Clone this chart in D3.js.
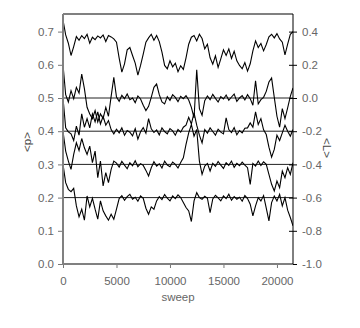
<!DOCTYPE html>
<html lang="en">
<head>
    <meta charset="UTF-8">
    <script src="https://d3js.org/d3.v7.min.js"></script>
    <title>p and L vs sweep</title>
    <style>
        html,
        body {
            margin: 0px;
            padding: 0px;
            background-color: #ffffff;
            font-family: "Liberation Sans", Arial, sans-serif;
        }
        .tick-label {
            font-size: 11.5px;
            fill: #666;
        }
    </style>
</head>
<body>
    <div id="chart"></div>

    <script>
        // sampled every 250 sweeps, 0 .. 21500
        const sweepStep = 250;
        const sweepMax = 21500;

        const xTicks = [0, 5000, 10000, 15000, 20000];
        const pTicks = [0.0, 0.1, 0.2, 0.3, 0.4, 0.5, 0.6, 0.7];
        const lTicks = [-1.0, -0.8, -0.6, -0.4, -0.2, 0.0, 0.2, 0.4];
        const refLines = [0.2, 0.3, 0.4, 0.5];

        const seriesA = [0.735, 0.69, 0.665, 0.628, 0.655, 0.685, 0.674, 0.688, 0.679, 0.692,
            0.665, 0.683, 0.676, 0.687, 0.681, 0.69, 0.67, 0.688, 0.684, 0.678,
            0.668, 0.62, 0.578, 0.603, 0.645, 0.652, 0.628, 0.605, 0.569, 0.598,
            0.632, 0.668, 0.681, 0.692, 0.674, 0.688, 0.67, 0.638, 0.598, 0.588,
            0.612, 0.594, 0.605, 0.579, 0.597, 0.586, 0.621, 0.662, 0.683, 0.688,
            0.672, 0.692, 0.679, 0.648, 0.662, 0.621, 0.602, 0.627, 0.592, 0.618,
            0.645, 0.628, 0.648, 0.619, 0.641, 0.612, 0.598, 0.588, 0.607, 0.581,
            0.603, 0.642, 0.672, 0.652, 0.664, 0.642, 0.661, 0.684, 0.692, 0.681,
            0.694, 0.678, 0.668, 0.63, 0.662, 0.692, 0.7];

        const seriesB = [0.6, 0.51, 0.488, 0.522, 0.498, 0.532, 0.515, 0.572, 0.528, 0.472,
            0.452, 0.438, 0.462, 0.428, 0.452, 0.438, 0.472, 0.445, 0.505, 0.562,
            0.503, 0.49, 0.508, 0.498, 0.512, 0.495, 0.5, 0.486, 0.506, 0.497,
            0.478, 0.462, 0.475, 0.502, 0.532, 0.542, 0.51, 0.488, 0.482, 0.504,
            0.493, 0.51, 0.502, 0.489, 0.505, 0.498, 0.507, 0.494, 0.472, 0.44,
            0.585, 0.468, 0.448, 0.492, 0.506, 0.495, 0.511, 0.499, 0.488, 0.504,
            0.497, 0.509, 0.493, 0.503, 0.512, 0.49, 0.5, 0.507, 0.494, 0.51,
            0.498, 0.478, 0.552, 0.482, 0.495, 0.502, 0.52, 0.548, 0.56, 0.502,
            0.445, 0.412, 0.468, 0.438, 0.47, 0.505, 0.53];

        const seriesC = [0.5, 0.41, 0.398, 0.392, 0.372, 0.415, 0.388, 0.452, 0.412, 0.438,
            0.41, 0.452, 0.428, 0.458, 0.422, 0.445, 0.418, 0.432, 0.405, 0.392,
            0.406, 0.395, 0.41, 0.388, 0.402, 0.397, 0.386, 0.408, 0.376, 0.398,
            0.411, 0.394, 0.438, 0.407, 0.396, 0.404, 0.389, 0.41, 0.399, 0.392,
            0.408, 0.401, 0.388, 0.405, 0.397, 0.412, 0.418, 0.442, 0.422, 0.455,
            0.418, 0.388, 0.365, 0.405, 0.394, 0.41, 0.399, 0.388, 0.406, 0.397,
            0.392, 0.44, 0.405, 0.396, 0.411, 0.389, 0.402, 0.395, 0.409, 0.41,
            0.425, 0.412, 0.458, 0.42, 0.438, 0.404, 0.39, 0.352, 0.322, 0.345,
            0.388, 0.372, 0.395, 0.418, 0.4, 0.385, 0.405];

        const seriesD = [0.4, 0.34, 0.31, 0.285, 0.33, 0.365, 0.342, 0.378, 0.35, 0.33,
            0.355, 0.305, 0.34, 0.26, 0.31, 0.235, 0.275, 0.245, 0.285, 0.31,
            0.304, 0.292, 0.309, 0.298, 0.287, 0.305, 0.296, 0.311, 0.293, 0.302,
            0.297, 0.282, 0.265, 0.29, 0.308, 0.295, 0.302, 0.289, 0.31, 0.298,
            0.293, 0.307, 0.3, 0.289, 0.306, 0.32, 0.36, 0.395, 0.42, 0.385,
            0.405, 0.31, 0.27, 0.295, 0.303, 0.28, 0.303, 0.294, 0.309, 0.298,
            0.288, 0.305, 0.297, 0.31, 0.291, 0.303, 0.296, 0.307, 0.298, 0.29,
            0.24, 0.303, 0.295, 0.31, 0.297, 0.308, 0.3, 0.27, 0.24, 0.22,
            0.25, 0.23, 0.28, 0.26, 0.29, 0.27, 0.305];

        const seriesE = [0.3, 0.245, 0.225, 0.218, 0.228, 0.175, 0.142, 0.165, 0.132, 0.205,
            0.172, 0.198, 0.165, 0.135, 0.19, 0.16, 0.145, 0.132, 0.15, 0.135,
            0.165, 0.197, 0.206, 0.192, 0.203, 0.21, 0.195, 0.201, 0.189, 0.205,
            0.198, 0.168, 0.15, 0.172, 0.165, 0.19, 0.203, 0.194, 0.209, 0.198,
            0.19, 0.205, 0.197, 0.208, 0.2, 0.185, 0.17, 0.16, 0.128, 0.19,
            0.215, 0.2, 0.195, 0.204, 0.198, 0.155, 0.196, 0.207, 0.199, 0.19,
            0.205, 0.197, 0.21, 0.192, 0.203, 0.195, 0.201, 0.189, 0.206, 0.197,
            0.18, 0.145, 0.175, 0.2, 0.19, 0.206, 0.168, 0.13, 0.185, 0.205,
            0.19, 0.21, 0.175, 0.2, 0.162, 0.14, 0.115];

        const allSeries = [seriesA, seriesB, seriesC, seriesD, seriesE];

        let width = 360;
        let height = 328;
        let margin = { top: 15, right: 67, bottom: 64, left: 63 };

        let svg = d3.select('#chart').append('svg')
            .attr('width', width)
            .attr('height', height);

        let x = d3.scaleLinear().domain([0, sweepMax]).range([margin.left, width - margin.right]);
        let y = d3.scaleLinear().domain([0, 0.75]).range([height - margin.bottom, margin.top]);
        let yR = d3.scaleLinear().domain([-1.0, 0.5]).range([height - margin.bottom, margin.top]);

        svg.append('clipPath').attr('id', 'plot-clip')
            .append('rect')
            .attr('x', margin.left).attr('y', margin.top - 1)
            .attr('width', width - margin.left - margin.right)
            .attr('height', height - margin.top - margin.bottom + 1);

        // reference lines
        svg.append('g').selectAll('line')
            .data(refLines)
            .join('line')
            .attr('x1', x(0)).attr('x2', x(sweepMax))
            .attr('y1', d => y(d)).attr('y2', d => y(d))
            .attr('stroke', '#222')
            .attr('stroke-width', 1);

        // traces
        let line = d3.line()
            .x((d, i) => x(i * sweepStep))
            .y(d => y(d));

        svg.append('g').attr('clip-path', 'url(#plot-clip)')
            .selectAll('path')
            .data(allSeries)
            .join('path')
            .attr('d', line)
            .attr('fill', 'none')
            .attr('stroke', '#000')
            .attr('stroke-width', 1.1);

        // left axis
        let leftAxis = svg.append('g')
            .attr('transform', `translate(${margin.left},0)`)
            .call(d3.axisLeft(y).tickValues(pTicks).tickFormat(d3.format('.1f')).tickSize(5).tickPadding(4));
        leftAxis.select('.domain').remove();
        leftAxis.selectAll('.tick line').attr('stroke', '#777');
        leftAxis.selectAll('.tick text').attr('class', 'tick-label').attr('font-family', null).attr('font-size', null);

        // right axis
        let rightAxis = svg.append('g')
            .attr('transform', `translate(${width - margin.right},0)`)
            .call(d3.axisRight(yR).tickValues(lTicks).tickFormat(d3.format('.1f')).tickSize(4).tickPadding(5));
        rightAxis.select('.domain').remove();
        rightAxis.selectAll('.tick line').attr('x1', -4).attr('stroke', '#000');
        rightAxis.selectAll('.tick text').attr('class', 'tick-label').attr('font-family', null).attr('font-size', null)
            .text(d => d3.format('.1f')(d).replace('−', '-'));

        // bottom axis
        let bottomAxis = svg.append('g')
            .attr('transform', `translate(0,${height - margin.bottom})`)
            .call(d3.axisBottom(x).tickValues(xTicks).tickFormat(d3.format('d')).tickSize(4).tickPadding(9));
        bottomAxis.select('.domain').remove();
        bottomAxis.selectAll('.tick line').attr('stroke', '#777');
        bottomAxis.selectAll('.tick text').attr('class', 'tick-label').attr('font-family', null).attr('font-size', null);

        // frame
        let x0 = x(0), x1 = x(sweepMax), yTop = margin.top - 1, yBot = height - margin.bottom;
        svg.append('line').attr('x1', x0).attr('x2', x1).attr('y1', yTop).attr('y2', yTop)
            .attr('stroke', '#808080').attr('stroke-width', 2);
        svg.append('line').attr('x1', x0 - 1).attr('x2', x1).attr('y1', yBot).attr('y2', yBot)
            .attr('stroke', '#808080').attr('stroke-width', 2);
        svg.append('line').attr('x1', x0).attr('x2', x0).attr('y1', yTop).attr('y2', yBot)
            .attr('stroke', '#808080').attr('stroke-width', 2);
        svg.append('line').attr('x1', x1).attr('x2', x1).attr('y1', yTop).attr('y2', yBot)
            .attr('stroke', '#000').attr('stroke-width', 1);

        // axis titles
        svg.append('text')
            .attr('class', 'tick-label')
            .attr('x', (x0 + x1) / 2).attr('y', 301)
            .attr('text-anchor', 'middle')
            .text('sweep');

        svg.append('text')
            .attr('class', 'tick-label')
            .attr('transform', 'translate(31,142) rotate(-90)')
            .attr('text-anchor', 'middle')
            .style('fill', '#444')
            .text('<p>');

        svg.append('text')
            .attr('class', 'tick-label')
            .attr('transform', 'translate(323,148) rotate(90)')
            .attr('text-anchor', 'middle')
            .style('fill', '#444')
            .text('<L>');
    </script>
</body>
</html>
